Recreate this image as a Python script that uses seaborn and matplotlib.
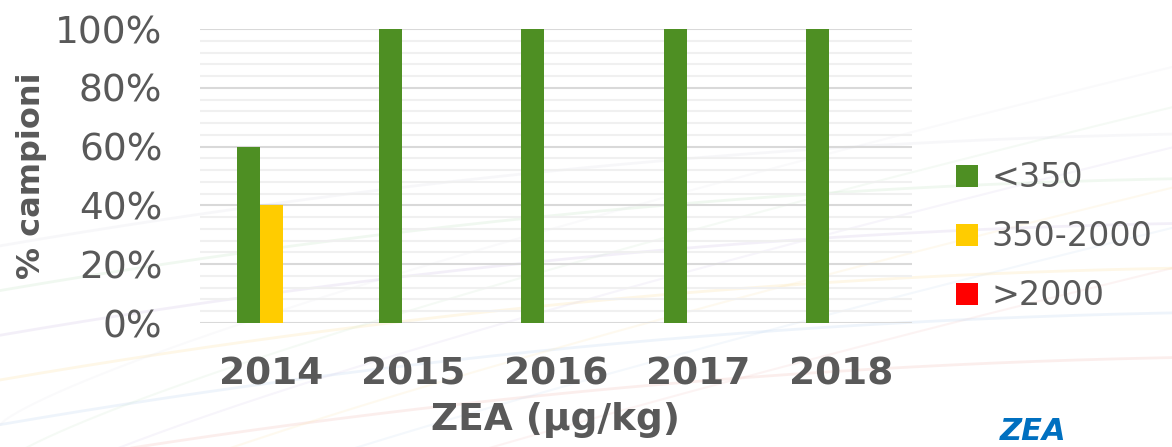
import pandas as pd
import matplotlib.pyplot as plt
import seaborn as sns
import numpy as np
from matplotlib.ticker import MultipleLocator, PercentFormatter

# data
years = ['2014', '2015', '2016', '2017', '2018']
below_350 = [60, 100, 100, 100, 100]
mid_350_2000 = [40, 0, 0, 0, 0]
above_2000 = [0, 0, 0, 0, 0]
classes = ['<350', '350-2000', '>2000']
colors = ['#4E8F23', '#FFCC00', '#FF0000']

df = pd.DataFrame({'year': years, '<350': below_350,
                   '350-2000': mid_350_2000, '>2000': above_2000})
long_df = df.melt(id_vars='year', var_name='class', value_name='pct')

sns.set_style('white')
plt.rcParams['font.family'] = ['DejaVu Sans']
text_col = '#595959'

fig = plt.figure(figsize=(11.72, 4.47), dpi=100)

# faint decorative swirls in the background
bg = fig.add_axes([0, 0, 1, 1], zorder=-1)
bg.set_xlim(0, 1)
bg.set_ylim(0, 1)
bg.axis('off')
t = np.linspace(0, 1, 200)
swirl_cols = ['#F4C7C3', '#C9DCF2', '#FCE5B0', '#D8CDEB', '#CFE8CF', '#E6E6EE']
for i, c in enumerate(swirl_cols):
    bg.plot(t, -0.05 + 0.1 * i + 0.45 * t - 0.2 * t ** 2, color=c, lw=2, alpha=0.3)
    bg.plot(t, -0.4 + 0.09 * i + 0.8 * t ** 0.8, color=c, lw=1.5, alpha=0.2)

ax = fig.add_axes([0.1706, 0.2774, 0.6076, 0.6576])
ax.patch.set_alpha(0)
sns.barplot(data=long_df, x='year', y='pct', hue='class', hue_order=classes,
            palette=colors, width=0.485, ax=ax, saturation=1, legend=True,
            linewidth=0)

ax.set_ylim(0, 100)
ax.yaxis.set_major_locator(MultipleLocator(20))
ax.yaxis.set_minor_locator(MultipleLocator(4))
ax.yaxis.set_major_formatter(PercentFormatter(decimals=0))
ax.grid(axis='y', which='major', color='#D9D9D9', lw=1.5)
ax.grid(axis='y', which='minor', color='#F0F0F0', lw=1.5)
ax.set_axisbelow(True)
for s in ax.spines.values():
    s.set_visible(False)
ax.tick_params(axis='y', which='both', length=0, labelsize=27, labelcolor=text_col, pad=27)
ax.tick_params(axis='x', length=0, labelsize=27, labelcolor=text_col, pad=24)
for lab in ax.get_xticklabels():
    lab.set_fontweight('bold')

ax.set_xlabel('ZEA (µg/kg)', fontsize=27, fontweight='bold', color=text_col, labelpad=7)
ax.set_ylabel('% campioni', fontsize=23, fontweight='bold', color=text_col, labelpad=6)

ax.legend(loc='center left', bbox_to_anchor=(1.02, 0.293), frameon=False,
          fontsize=24, labelcolor=text_col, handlelength=0.65, handleheight=0.65,
          handletextpad=0.4, labelspacing=0.78)

fig.text(0.853, 0.003, 'ZEA', color='#0070C0', fontsize=22, fontweight='bold',
         style='italic', ha='left', va='bottom')

plt.savefig('out.png', dpi=100)
